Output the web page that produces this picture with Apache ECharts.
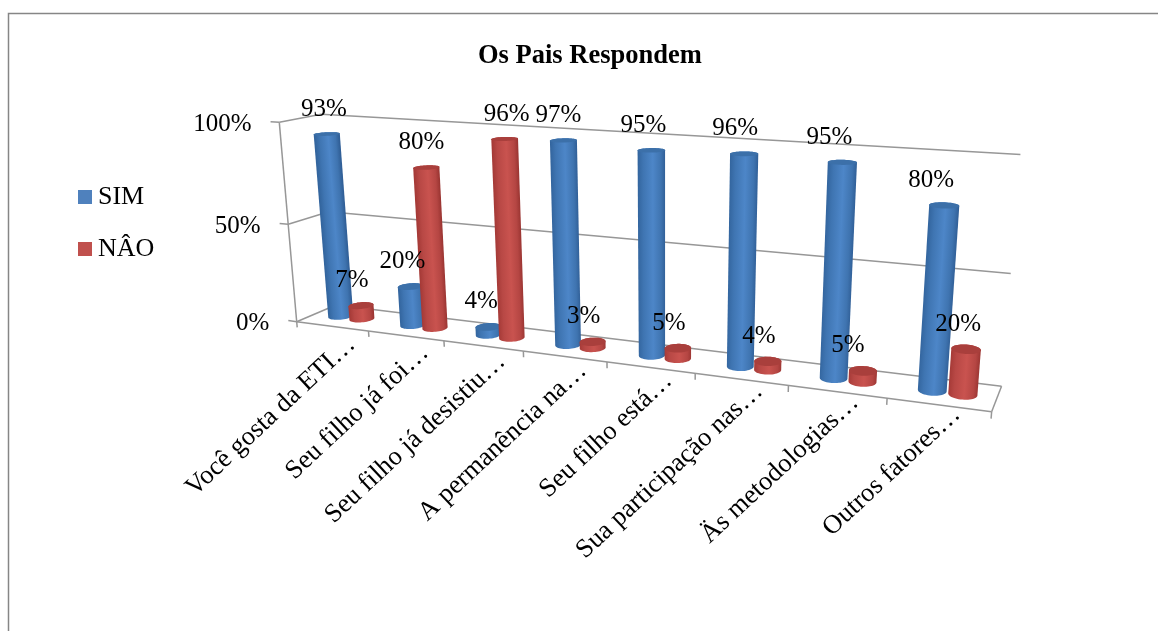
<!DOCTYPE html>
<html>
<head>
<meta charset="utf-8">
<style>html,body{margin:0;padding:0;background:#fff}#chart{width:1158px;height:631px}</style>
<script src="https://cdn.jsdelivr.net/npm/echarts@6/dist/echarts.min.js"></script>
</head>
<body>
<div id="chart"></div>
<script>
const chartTitle = 'Os Pais Respondem';
const categories = ['Você gosta da ETI…', 'Seu filho já foi…', 'Seu filho já desistiu…', 'A permanência na…',
  'Seu filho está…', 'Sua participação nas…', 'Äs metodologias…', 'Outros fatores…'];
const simValues = [93, 20, 4, 97, 95, 96, 95, 80];
const naoValues = [7, 80, 96, 3, 5, 4, 5, 20];
const valueTicks = [0, 50, 100];

const SERIF = '"Liberation Serif", "Times New Roman", serif';
const FRAME = '#979797';
// Horizontal nudges that keep each value label clear of its neighbours.
const simLabelNudge = [-3, -8, -7, -5, -8, -9, -13, -13];
const naoLabelNudge = [-9, -5, 2, -9, -9, -9, -15, -8];

// Perspective camera: maps (category position, depth 0..1, share 0..1) to pixels.
function project(X, Y, Z) {
  const w = 1 - 0.02417 * X + 0.047 * Y - 0.04522 * Z;
  return [(296.7 + 62.9 * X + 55.06 * Y - 30.03 * Z) / w,
          (321.7 + 1.3 * X - 2.35 * Y - 204.9 * Z) / w];
}

function hull(pts) {
  const p = pts.slice().sort((a, b) => a[0] - b[0] || a[1] - b[1]);
  const cross = (o, a, b) => (a[0] - o[0]) * (b[1] - o[1]) - (a[1] - o[1]) * (b[0] - o[0]);
  const half = list => {
    const out = [];
    list.forEach(q => {
      while (out.length > 1 && cross(out[out.length - 2], out[out.length - 1], q) <= 0) out.pop();
      out.push(q);
    });
    out.pop();
    return out;
  };
  return half(p).concat(half(p.reverse()));
}

function ring(cx, Z) {
  const out = [];
  for (let a = 0; a < 48; a++) {
    const t = a / 48 * Math.PI * 2;
    out.push(project(cx + 0.14 * Math.cos(t), 0.5 + 0.2 * Math.sin(t), Z));
  }
  return out;
}

// Axis position from the hidden cartesian scales, converted to camera units.
function toCamera(params, api, idx, value) {
  const c = api.coord([idx, value]);
  const s = params.coordSys;
  return [(c[0] - s.x) / s.width * categories.length, (s.y + s.height - c[1]) / s.height];
}

function cylinderRenderer(shift, shades, topColor, nudges) {
  return function (params, api) {
    const idx = api.value(0), value = api.value(1);
    const pos = toCamera(params, api, idx, value);
    const cx = pos[0] + shift + 0.004 * idx, Z = pos[1];
    const base = ring(cx, 0), top = ring(cx, Z);
    const b = project(cx, 0.5, 0), t = project(cx, 0.5, Z);
    const len = Math.hypot(t[0] - b[0], t[1] - b[1]) || 1;
    const nx = -(t[1] - b[1]) / len, ny = (t[0] - b[0]) / len;
    const mx = (b[0] + t[0]) / 2, my = (b[1] + t[1]) / 2;
    const half = 12 + idx * 0.4;
    const sgn = nx < 0 ? -1 : 1;
    const fill = new echarts.graphic.LinearGradient(
      mx - sgn * nx * half, my - sgn * ny * half, mx + sgn * nx * half, my + sgn * ny * half,
      shades.map((c, i) => ({ offset: [0, 0.2, 0.55, 0.85, 1][i], color: c })), true);
    return {
      type: 'group',
      children: [
        { type: 'polygon', shape: { points: hull(base.concat(top)) }, style: { fill: fill } },
        { type: 'polygon', shape: { points: top }, style: { fill: topColor } },
        { type: 'text', z2: 100, x: t[0] + nudges[idx], y: t[1] - 25,
          style: { text: value + '%', font: '25px ' + SERIF, fill: '#000', align: 'center', verticalAlign: 'middle' } }
      ]
    };
  };
}

function line(a, b, width) {
  return { type: 'line', shape: { x1: a[0], y1: a[1], x2: b[0], y2: b[1] },
           style: { stroke: FRAME, lineWidth: width || 1.5 } };
}

// Walls, floor, ticks and the text of both axes.
function renderFrame() {
  const n = categories.length, kids = [];
  valueTicks.forEach(v => {
    const z = v / 100;
    kids.push(line(project(0, 0, z), project(0, 1, z)));
    kids.push(line(project(0, 1, z), project(n, 1, z)));
    const tickEnd = project(-0.12, 0, z);
    kids.push(line(project(0, 0, z), tickEnd));
    kids.push({ type: 'text', x: tickEnd[0] - 19, y: tickEnd[1] + 3,
      style: { text: v + '%', font: '25px ' + SERIF, fill: '#000', align: 'right', verticalAlign: 'middle' } });
  });
  kids.push(line(project(0, 0, 0), project(0, 0, 1)));
  kids.push(line(project(0, 0, 0), project(n, 0, 0)));
  kids.push(line(project(n, 0, 0), project(n, 1, 0)));
  for (let i = 0; i <= n; i++) kids.push(line(project(i, 0, 0), project(i, 0, -0.03)));
  categories.forEach((name, i) => {
    const p = project(i + 0.77, 0, 0);
    kids.push({ type: 'text', x: p[0] - 1.5 * i, y: p[1] + 12 - 1.4 * i, rotation: 43 * Math.PI / 180,
      style: { text: name, font: '26.5px ' + SERIF, fill: '#000', align: 'right', verticalAlign: 'middle' } });
  });
  return { type: 'group', children: kids };
}

const seriesData = vals => vals.map((v, i) => [i, v]);

const chart = echarts.init(document.getElementById('chart'), null, { renderer: 'canvas' });
chart.setOption({
  animation: false,
  backgroundColor: '#fff',
  title: { text: chartTitle, left: 473, top: 38,
    textStyle: { fontFamily: SERIF, fontWeight: 'bold', fontSize: 26.5, color: '#000' } },
  legend: { orient: 'vertical', left: 73, top: 179, itemWidth: 14, itemHeight: 14, itemGap: 26, icon: 'rect',
    data: ['SIM', 'NÂO'], selectedMode: false,
    textStyle: { fontFamily: SERIF, fontSize: 26, color: '#000', padding: [2, 0, 0, 1] } },
  graphic: [{ type: 'rect', silent: true, shape: { x: 8.5, y: 13.5, width: 1400, height: 900 },
    style: { fill: 'none', stroke: '#868686', lineWidth: 1.5 }, z: -1 }],
  grid: { left: 0, top: 0, width: 800, height: 100 },
  xAxis: { type: 'category', data: categories, show: false },
  yAxis: { type: 'value', min: 0, max: 100, show: false },
  series: [
    { type: 'custom', name: 'frame', coordinateSystem: 'cartesian2d', data: [[0, 0]], renderItem: renderFrame, silent: true },
    { type: 'custom', name: 'SIM', coordinateSystem: 'cartesian2d', itemStyle: { color: '#4f81bd' }, data: seriesData(simValues),
      renderItem: cylinderRenderer(-0.155, ['#33659e', '#3f75b2', '#4d86c8', '#3f74b0', '#316098'], '#3c70a9', simLabelNudge) },
    { type: 'custom', name: 'NÂO', coordinateSystem: 'cartesian2d', itemStyle: { color: '#c0504d' }, data: seriesData(naoValues),
      renderItem: cylinderRenderer(0.145, ['#a53a37', '#b84845', '#c9534f', '#b54643', '#9c3633'], '#a93f3c', naoLabelNudge) }
  ]
});
</script>
</body>
</html>
